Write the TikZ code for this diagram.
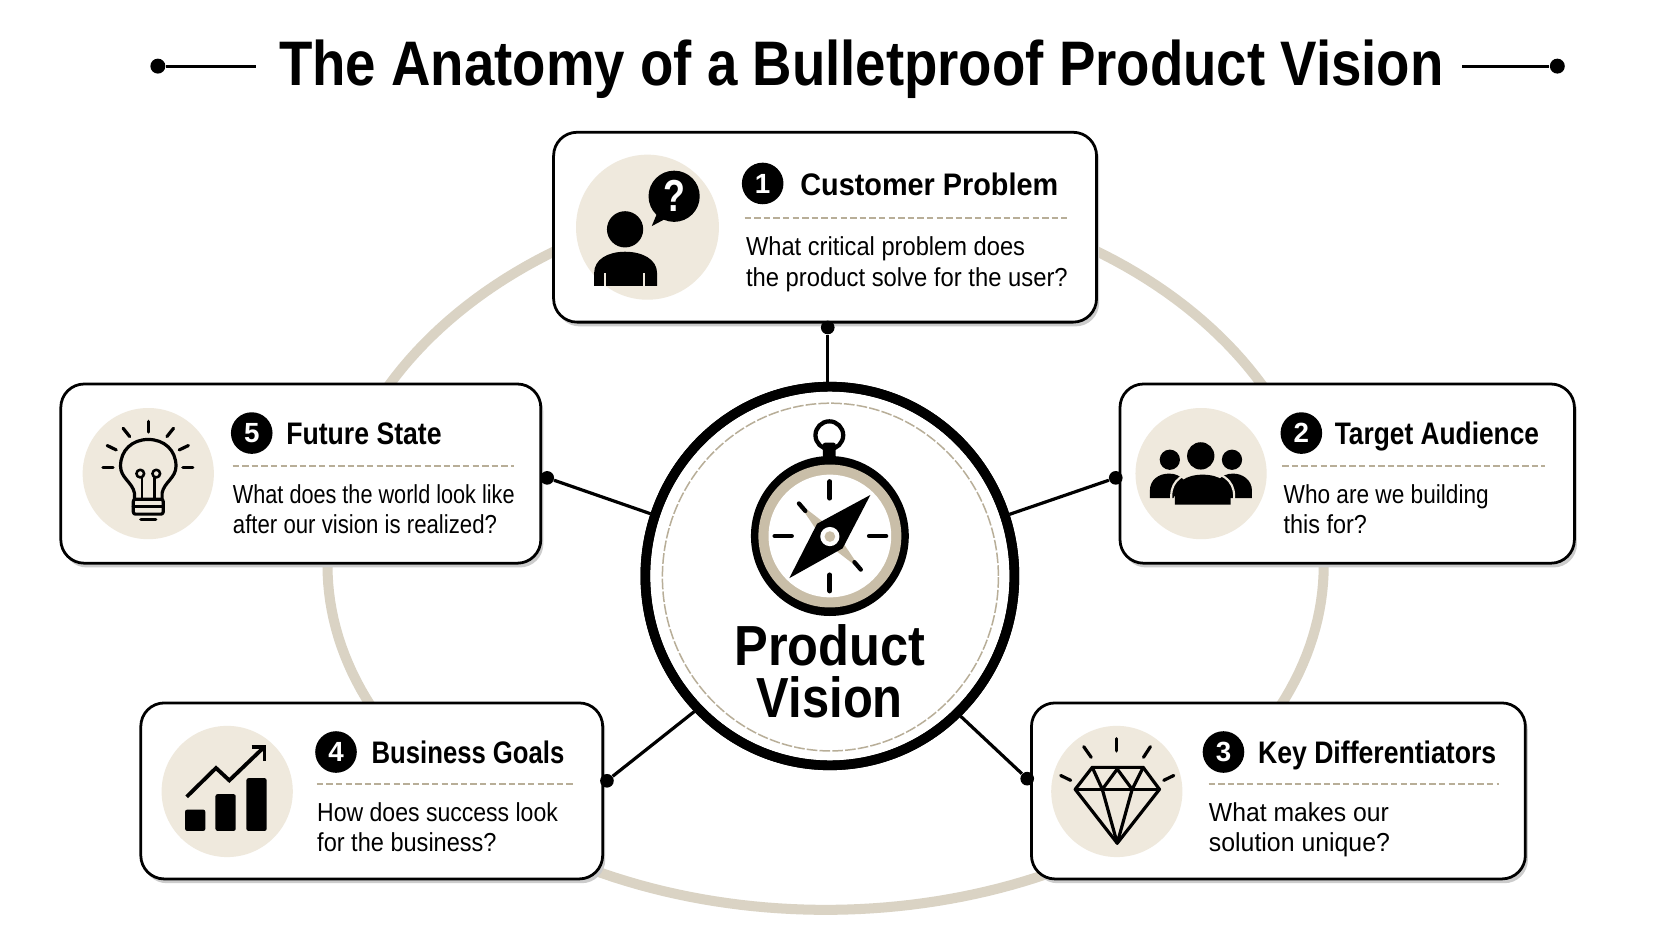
\documentclass[tikz,border=0pt]{standalone}
\usepackage{fontspec}
\usepackage{graphicx}
\setmainfont{Liberation Sans}
\newfontfamily\ttlfont[FakeStretch=0.868]{Liberation Sans}
\usetikzlibrary{shapes.geometric,shadows}
\definecolor{sand}{HTML}{EFE9DD}
\definecolor{ringc}{HTML}{DAD3C4}
\definecolor{dashc}{HTML}{B8AE98}
\definecolor{tan}{HTML}{C9BEA8}
\newcommand{\squeeze}[2]{\scalebox{#1}[1]{#2}}
\tikzset{
  card/.style={draw=black,fill=white,line width=1.3pt,rounded corners=11pt,inner sep=0pt,
    copy shadow={shadow xshift=1.2pt,shadow yshift=-2pt,draw=none,fill=black!20}},
  iconbg/.style={circle,fill=sand,inner sep=0pt,minimum size=61.5pt},
  badge/.style={circle,fill=black,text=white,inner sep=0pt,minimum size=19.5pt,font=\bfseries\fontsize{13}{14}\selectfont},
  cardtitle/.style={anchor=base west,inner sep=0pt,font=\bfseries\fontsize{14.6}{16}\selectfont},
  cardbody/.style={anchor=base west,inner sep=0pt,font=\fontsize{12.2}{14}\selectfont},
  sep/.style={draw=dashc,line width=0.9pt,dash pattern=on 3pt off 1.5pt},
  dotn/.style={circle,fill=black,inner sep=0pt,minimum size=6.4pt},
  link/.style={draw=black,line width=1.5pt},
  glyph/.style={draw=black,line width=1.5pt,line cap=round,line join=round},
  tick/.style={draw=black,line width=2.3pt,line cap=round},
}
\begin{document}
\begin{tikzpicture}[x=0.5pt,y=-0.5pt]
\useasboundingbox (0,0) rectangle (1567.5,882.2);
\fill[white] (0,0) rectangle (1567.5,882.2);
% ring behind everything
\draw[ringc,line width=4.7pt] plot[domain=180:360,samples=120] ({774+467*cos(\x)},{530+351*sin(\x)});
\draw[ringc,line width=4.7pt] plot[domain=0:180,samples=120] ({774+467*cos(\x)},{530+323*sin(\x)});
% title
\node[inner sep=0pt,anchor=base,font=\ttlfont\bfseries\fontsize{29.5}{32}\selectfont] (title) at (807.5,80) {The Anatomy of a Bulletproof Product Vision};
\node[dotn,minimum size=7pt] (tl) at (148,62) {};
\node[dotn,minimum size=7pt] (tr) at (1460,62) {};
\coordinate (tla) at (240,62);
\coordinate (tra) at (1371,62);
\draw[link] (tl) -- (tla);
\draw[link] (tr) -- (tra);
% cards
\node[card,minimum width=254.5pt,minimum height=89pt] (c1) at (773.5,213) {};
\node[card,minimum width=225pt,minimum height=84pt] (c5) at (282,444) {};
\node[card,minimum width=213pt,minimum height=84pt] (c2) at (1263,444) {};
\node[card,minimum width=216.5pt,minimum height=82.5pt] (c4) at (348.5,741.5) {};
\node[card,minimum width=231.5pt,minimum height=82.5pt] (c3) at (1198.5,741.5) {};
% hub
\node[ellipse,draw=black,fill=white,line width=4.5pt,minimum width=173pt,minimum height=177.5pt,inner sep=0pt] (hub) at (778,540) {};
\draw[dashc,line width=0.7pt,dash pattern=on 5pt off 1pt] (778.5,541) ellipse [x radius=157.5,y radius=163];
% connectors
\node[dotn] (d1) at (776,307) {};
\node[dotn] (d2) at (1046,448) {};
\node[dotn] (d3) at (963,730) {};
\node[dotn] (d4) at (569,732) {};
\node[dotn] (d5) at (513,448) {};
\draw[link] (d1) -- (d1 |- hub.north);
\draw[link] (d2) -- (hub);
\draw[link] (d3) -- (hub.313);
\draw[link] (d4) -- (hub.225);
\draw[link] (d5) -- (hub);
% redraw hub ring over the connector ends
\draw[black,line width=4.5pt] (778,540) ellipse [x radius=173,y radius=177.5];
% icon backgrounds
\node[iconbg,ellipse,minimum width=67pt,minimum height=68pt] (i1) at (607,213) {};
\node[iconbg] (i2) at (1126,444) {};
\node[iconbg] (i3) at (1047,742) {};
\node[iconbg] (i4) at (213,742) {};
\node[iconbg] (i5) at (139,444) {};
% badges and titles
\node[badge] (b1) at (715,172) {1};
\node[badge] (b2) at (1220,406) {2};
\node[badge] (b3) at (1147,705) {3};
\node[badge] (b4) at (315,705) {4};
\node[badge] (b5) at (236,406) {5};
\node[cardtitle] (t1) at (750,183) {\squeeze{0.925}{Customer Problem}};
\node[cardtitle] (t2) at (1251,417) {\squeeze{0.845}{Target Audience}};
\node[cardtitle] (t3) at (1179,716) {\squeeze{0.855}{Key Differentiators}};
\node[cardtitle] (t4) at (348,716) {\squeeze{0.825}{Business Goals}};
\node[cardtitle] (t5) at (268,417) {\squeeze{0.855}{Future State}};
% separators
\draw[sep] (698,204) -- (1000,204);
\draw[sep] (1202,437) -- (1448,437);
\draw[sep] (1133,735) -- (1405,735);
\draw[sep] (297,735) -- (537,735);
\draw[sep] (218,437) -- (482,437);
% bodies
\node[cardbody] (p1a) at (699,240) {\squeeze{0.91}{What critical problem does}};
\node[cardbody] (p1b) at (699,269) {\squeeze{0.915}{the product solve for the user?}};
\node[cardbody] (p2a) at (1203,472) {\squeeze{0.87}{Who are we building}};
\node[cardbody] (p2b) at (1203,500) {\squeeze{0.9}{this for?}};
\node[cardbody] (p3a) at (1133,770) {\squeeze{0.95}{What makes our}};
\node[cardbody] (p3b) at (1133,798) {\squeeze{0.955}{solution unique?}};
\node[cardbody] (p4a) at (297,770) {\squeeze{0.885}{How does success look}};
\node[cardbody] (p4b) at (297,798) {\squeeze{0.905}{for the business?}};
\node[cardbody] (p5a) at (218,472) {\squeeze{0.832}{What does the world look like}};
\node[cardbody] (p5b) at (218,500) {\squeeze{0.853}{after our vision is realized?}};
% person with question
\fill (586,215) ellipse [x radius=17,y radius=17];
\fill (557,268) -- (557,256) .. controls (557,243) and (570,236) .. (586,236) .. controls (602,236) and (616,243) .. (616,256) -- (616,268) -- cycle;
\draw[sand,line width=1pt] (567.5,256) -- (567.5,268);
\draw[sand,line width=1pt] (603.5,256) -- (603.5,268);
\fill (632,184) ellipse [x radius=24,y radius=24];
\fill (616,200) -- (611,212) -- (626,204) -- cycle;
\node[text=white,inner sep=0pt,font=\bfseries\fontsize{21}{22}\selectfont] (qm) at (632,184) {\squeeze{0.8}{?}};
% people
\fill (1125.7,427.4) circle [radius=12.8];
\fill (1096.7,431) circle [radius=9.5];
\fill (1155,431) circle [radius=9.5];
\fill (1078,467) -- (1078,460) .. controls (1078,450) and (1086,444) .. (1096,444) .. controls (1102,444) and (1106,446) .. (1110,450) -- (1100,467) -- cycle;
\fill (1173.7,467) -- (1173.7,460) .. controls (1173.7,450) and (1165,444) .. (1156,444) .. controls (1150,444) and (1146,446) .. (1142,450) -- (1152,467) -- cycle;
\fill[black] (1101.4,473) -- (1101.4,465) .. controls (1101.4,452) and (1112,445) .. (1127.5,445) .. controls (1143,445) and (1153.8,452) .. (1153.8,465) -- (1153.8,473) -- cycle;
\draw[sand,line width=1pt] (1098,473) -- (1098,465) .. controls (1098,450) and (1110,442) .. (1127.5,442) .. controls (1145,442) and (1157,450) .. (1157,465) -- (1157,473);
% diamond
\draw[glyph] (1024,719.4) -- (1071.7,719.4) -- (1087,740) -- (1047.4,790.5) -- (1008,740) -- cycle;
\draw[glyph] (1008,740) -- (1087,740);
\draw[glyph] (1024,719.4) -- (1033.4,740) -- (1047.4,721) -- (1061.4,740) -- (1071.7,719.4);
\draw[glyph] (1033.4,740) -- (1047.4,790.5) -- (1061.4,740);
\draw[glyph] (1047,692.5) -- (1047,704);
\draw[glyph] (1016,700) -- (1023,710);
\draw[glyph] (1078.5,700) -- (1072,710);
\draw[glyph] (994.4,727) -- (1003.8,731.6);
\draw[glyph] (1100.4,727) -- (1091,731.6);
% chart
\fill[rounded corners=1pt] (173.5,759) rectangle (192.5,779);
\fill[rounded corners=1pt] (202,744.5) rectangle (221,779);
\fill[rounded corners=1pt] (231,729.5) rectangle (250,779);
\draw[glyph,line width=1.8pt,line cap=butt,line join=miter] (175,747) -- (202.5,720) -- (215,731.6) -- (248,700);
\draw[glyph,line width=1.8pt,line cap=butt,line join=miter] (236,700) -- (248,700) -- (248,713);
% bulb
\draw[glyph] (126,468) -- (126,462) .. controls (124,452) and (113,448) .. (113,437) .. controls (113,422) and (124,412) .. (139,412) .. controls (154,412) and (165,422) .. (165,437) .. controls (165,448) and (154,452) .. (152,462) -- (152,468);
\draw[glyph,rounded corners=1pt] (125,468) rectangle (153,482);
\draw[glyph] (125,475) -- (153,475);
\draw[glyph] (132,487) -- (146,487);
\draw[glyph,line width=1.2pt] (131.5,444) circle [radius=3.6];
\draw[glyph,line width=1.2pt] (146.5,444) circle [radius=3.6];
\draw[glyph,line width=1.2pt] (133,448) -- (133,468);
\draw[glyph,line width=1.2pt] (145,448) -- (145,468);
\draw[glyph] (139,395) -- (139,405);
\draw[glyph] (115.4,401.5) -- (121.6,409.3);
\draw[glyph] (162.7,401.5) -- (156.5,409.3);
\draw[glyph] (100.5,417.7) -- (109,421.8);
\draw[glyph] (176.6,417.7) -- (168,421.8);
\draw[glyph] (96.5,438) -- (106,438);
\draw[glyph] (171.4,438) -- (180.7,438);
% compass
\draw[black,line width=2pt] (777.5,408) circle [radius=13];
\fill[rounded corners=1pt] (771.5,415) rectangle (783.5,432);
\fill (778,502.5) ellipse [x radius=74,y radius=75];
\fill[tan] (778,502.5) circle [radius=67];
\fill[white] (778,502.5) circle [radius=57.5];
\draw[tick] (778,451.5) -- (778,467);
\draw[tick] (778,539) -- (778,554);
\draw[tick] (726.5,502.5) -- (742,502.5);
\draw[tick] (815,502.5) -- (830.5,502.5);
\fill[tan] (748,471) -- (783,498) -- (808,535) -- (773,508) -- cycle;
\draw[black,line width=2pt,line cap=round] (749,472) -- (755,479);
\draw[black,line width=2pt,line cap=round] (807,534) -- (801,527);
\fill (816,464) -- (790,514) -- (740,542) -- (766,491) -- cycle;
\fill[white] (778,503) circle [radius=9];
\fill[tan] (778,503) circle [radius=5];
% hub label
\node[inner sep=0pt,anchor=base,font=\bfseries\fontsize{26.5}{28}\selectfont] (pv1) at (778,624) {\squeeze{0.894}{Product}};
\node[inner sep=0pt,anchor=base,font=\bfseries\fontsize{26.5}{28}\selectfont] (pv2) at (778,673) {\squeeze{0.865}{Vision}};
\end{tikzpicture}
\end{document}
